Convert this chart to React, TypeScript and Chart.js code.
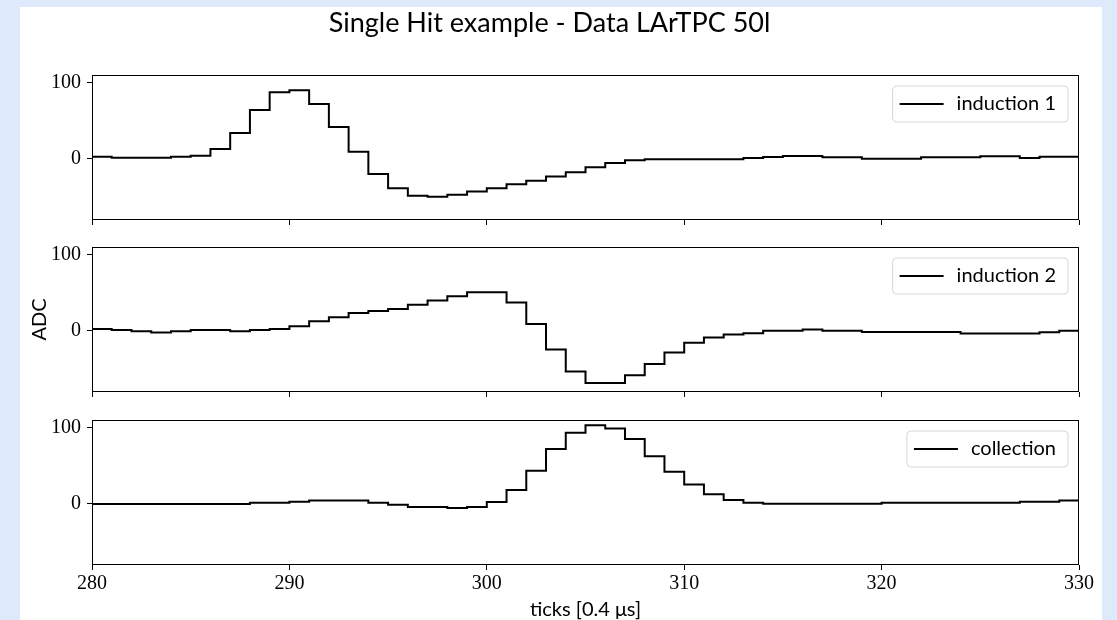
import React, { useEffect, useRef } from 'react';
import { Chart, registerables } from 'chart.js';

Chart.register(...registerables);

// ---------- data ----------
const ticksX = [
  280, 281, 282, 283, 284, 285, 286, 287, 288, 289,
  290, 291, 292, 293, 294, 295, 296, 297, 298, 299,
  300, 301, 302, 303, 304, 305, 306, 307, 308, 309,
  310, 311, 312, 313, 314, 315, 316, 317, 318, 319,
  320, 321, 322, 323, 324, 325, 326, 327, 328, 329,
  330,
];

const induction1 = [
  3, 1.5, 1.5, 1.5, 3, 4.3, 13, 34, 64, 87.5,
  90, 72, 41.7, 9.5, -19.6, -38.3, -48.3, -49.6, -47, -42.7,
  -38.3, -33, -28.7, -23, -17.4, -11, -5.3, -1.8, -0.5, -0.5,
  -0.5, -0.5, -0.5, 1.3, 2.6, 3.9, 3.9, 2.1, 2.1, 0.4,
  0.4, 0.4, 2.1, 2.1, 2.1, 3.4, 3.4, 1.3, 2.9, 2.9,
  2.9,
];

const induction2 = [
  2.6, 1.3, -0.4, -2.1, -0.4, 1.3, 1.3, -0.4, 1.3, 2.6,
  6.1, 12.6, 17.8, 23.4, 26, 28.6, 34.3, 39.9, 45.5, 50.6,
  50.6, 37.3, 9.1, -24.2, -53.2, -68.3, -68.3, -57.9, -43.2, -28.1,
  -15.6, -8.6, -4.7, -3, 0.4, 0.4, 1.8, 0.4, 0.4, -1.3,
  -1.3, -1.3, -1.3, -1.3, -3.4, -3.4, -3.4, -3.4, -1.7, 0.4,
  0.4,
];

const collection = [
  0, 0, 0, 0, 0, 0, 0, 0, 1.7, 1.7,
  3, 4.4, 4.4, 4.4, 1.7, -0.9, -4, -4, -5.3, -4,
  2.6, 18.4, 43.4, 71.9, 93.4, 103, 98.7, 85, 62.6, 42.1,
  25.4, 12.6, 5.3, 1.7, 0.4, 0.4, 0.4, 0.4, 0.4, 0.4,
  1.7, 1.7, 1.7, 1.7, 1.7, 1.7, 1.7, 3, 3, 4.4,
  4.4,
];

const seriesLabels = ['induction 1', 'induction 2', 'collection'];
const xTickValues = [280, 290, 300, 310, 320, 330];
const yTickValues = [0, 100];
const titleText = 'Single Hit example - Data LArTPC 50l';
const xLabel = 'ticks [0.4 \u03bcs]';
const yLabel = 'ADC';

// ---------- styling ----------
const SANS = 'Lato';
const SERIF = 'Liberation Serif';

const framePlugin = {
  id: 'frame',
  afterDatasetsDraw(chart: any) {
    const { ctx, chartArea: ca } = chart;
    ctx.save();
    ctx.strokeStyle = '#000';
    ctx.lineWidth = 1;
    const l = Math.round(ca.left) + 0.5;
    const t = Math.round(ca.top) + 0.5;
    const r = Math.round(ca.right) - 0.5;
    const b = Math.round(ca.bottom) - 0.5;
    ctx.strokeRect(l, t, r - l, b - t);
    ctx.restore();
  },
};

const boxLegendPlugin = {
  id: 'boxLegend',
  afterDraw(chart: any) {
    const { ctx, chartArea: ca } = chart;
    const text = chart.data.datasets[0].label;
    ctx.save();
    ctx.font = `20px ${SANS}`;
    const w = ctx.measureText(text).width;
    const boxH = 36;
    const boxW = 64 + w + 12;
    const right = ca.right - 11;
    const left = right - boxW;
    const top = ca.top + 11;
    const r = 4;
    ctx.beginPath();
    ctx.moveTo(left + r, top);
    ctx.lineTo(right - r, top);
    ctx.arcTo(right, top, right, top + r, r);
    ctx.lineTo(right, top + boxH - r);
    ctx.arcTo(right, top + boxH, right - r, top + boxH, r);
    ctx.lineTo(left + r, top + boxH);
    ctx.arcTo(left, top + boxH, left, top + boxH - r, r);
    ctx.lineTo(left, top + r);
    ctx.arcTo(left, top, left + r, top, r);
    ctx.closePath();
    ctx.fillStyle = 'rgba(255,255,255,0.8)';
    ctx.fill();
    ctx.strokeStyle = '#d6d6d6';
    ctx.lineWidth = 1;
    ctx.stroke();
    const cy = top + boxH / 2;
    ctx.beginPath();
    ctx.moveTo(left + 7, cy);
    ctx.lineTo(left + 51, cy);
    ctx.strokeStyle = '#000';
    ctx.lineWidth = 2;
    ctx.stroke();
    ctx.fillStyle = '#000';
    ctx.textBaseline = 'middle';
    ctx.textAlign = 'left';
    ctx.fillText(text, left + 64, cy);
    ctx.restore();
  },
};

type PanelProps = {
  values: number[];
  label: string;
  top: number;
  height: number;
  padTop: number;
  xAxisH: number;
  showTitle?: boolean;
  showXLabels?: boolean;
  showYTitle?: boolean;
};

function Panel(p: PanelProps) {
  const ref = useRef<HTMLCanvasElement | null>(null);
  useEffect(() => {
    if (!ref.current) return;
    const chart = new Chart(ref.current, {
      type: 'line',
      data: {
        datasets: [
          {
            label: p.label,
            data: p.values.map((v, i) => ({ x: ticksX[i], y: v })),
            stepped: 'before',
            borderColor: '#000',
            borderWidth: 2,
            pointRadius: 0,
            fill: false,
          } as any,
        ],
      },
      options: {
        responsive: false,
        animation: false,
        events: [],
        layout: { padding: { left: 0, right: 23, top: p.padTop, bottom: 0 } },
        plugins: {
          legend: { display: false },
          tooltip: { enabled: false },
          title: {
            display: !!p.showTitle,
            text: titleText,
            color: '#000',
            font: { family: SANS, size: 27, weight: 'normal' },
            padding: { top: 0, bottom: 35.6 },
          },
        },
        scales: {
          x: {
            type: 'linear',
            min: 280,
            max: 330,
            afterBuildTicks: (s: any) => {
              s.ticks = xTickValues.map((v) => ({ value: v }));
            },
            afterFit: (s: any) => {
              s.height = p.xAxisH;
              s.paddingLeft = 0;
              s.paddingRight = 0;
            },
            ticks: {
              display: !!p.showXLabels,
              color: '#000',
              font: { family: SERIF, size: 20 },
              padding: 2,
              maxRotation: 0,
              autoSkip: false,
            },
            grid: { drawOnChartArea: false, drawTicks: true, tickLength: 5, color: '#000' },
            border: { display: false },
            title: {
              display: !!p.showXLabels,
              text: xLabel,
              color: '#000',
              font: { family: SANS, size: 20 },
              padding: { top: 0, bottom: 8 },
            },
          },
          y: {
            type: 'linear',
            min: -80,
            max: 110,
            afterBuildTicks: (s: any) => {
              s.ticks = yTickValues.map((v) => ({ value: v }));
            },
            afterFit: (s: any) => {
              s.width = 72;
              s.paddingTop = 0;
              s.paddingBottom = 0;
            },
            ticks: {
              color: '#000',
              font: { family: SERIF, size: 20 },
              padding: 6,
            },
            grid: { drawOnChartArea: false, drawTicks: true, tickLength: 5, color: '#000' },
            border: { display: false },
            title: {
              display: !!p.showYTitle,
              text: yLabel,
              color: '#000',
              font: { family: SANS, size: 20 },
              padding: { top: 8, bottom: 0 },
            },
          },
        },
      } as any,
      plugins: [framePlugin, boxLegendPlugin],
    });
    return () => chart.destroy();
  }, []);
  return (
    <canvas
      ref={ref}
      width={1082}
      height={p.height}
      style={{ position: 'absolute', left: 0, top: p.top - 7, width: 1082, height: p.height }}
    />
  );
}

export default function App() {
  return (
    <div
      style={{
        position: 'absolute',
        left: 0,
        top: 0,
        width: 1117,
        height: 620,
        background: '#dee9fb',
        overflow: 'hidden',
      }}
    >
      <div
        style={{
          position: 'absolute',
          left: 20,
          top: 7,
          width: 1082,
          height: 640,
          background: '#fff',
          overflow: 'hidden',
        }}
      >
        <Panel values={induction1} label={seriesLabels[0]} top={7} height={219} padTop={0} xAxisH={6} showTitle />
        <Panel values={induction2} label={seriesLabels[1]} top={230} height={168} padTop={17} xAxisH={6} showYTitle />
        <Panel values={collection} label={seriesLabels[2]} top={400} height={230} padTop={20} xAxisH={65} showXLabels />
      </div>
    </div>
  );
}
